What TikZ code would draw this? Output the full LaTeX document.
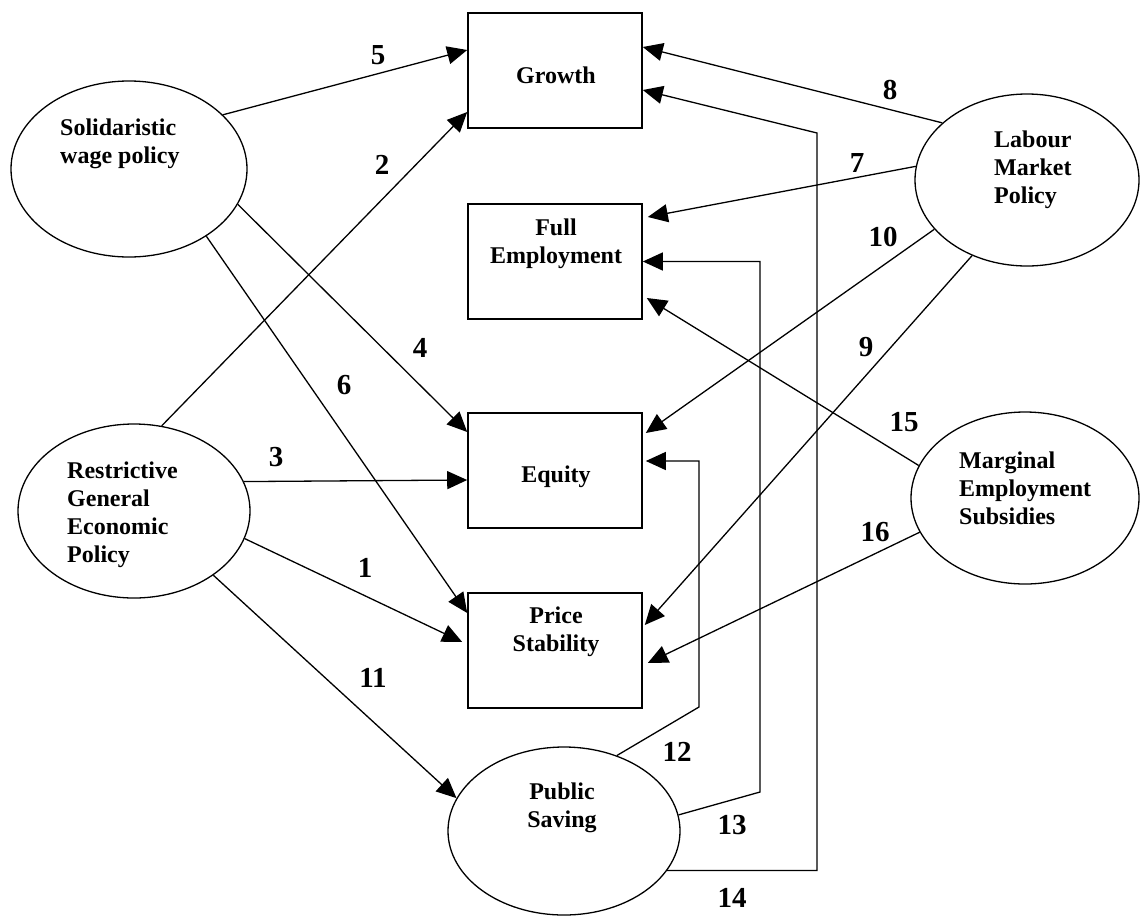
\documentclass[tikz,border=0pt]{standalone}
\usepackage{fontspec}
\setmainfont{Liberation Serif}
\usetikzlibrary{arrows.meta,shapes.geometric}
\begin{document}
\begin{tikzpicture}[x=1pt,y=-1pt,
  oval/.style={ellipse,draw,line width=1.3pt,inner sep=0pt},
  goal/.style={rectangle,draw,line width=1.6pt,minimum width=174pt,minimum height=115pt,inner sep=0pt},
  txt/.style={font=\fontsize{24}{28}\selectfont\bfseries,inner sep=0pt},
  num/.style={font=\fontsize{29}{30}\selectfont\bfseries,inner sep=0pt},
  link/.style={line width=1.3pt,-{Triangle[length=20pt,width=18pt]}}]
\useasboundingbox (0,0) rectangle (1140,916);

% goal boxes
\node[goal] (growth) at (555,70.5) {};
\node[goal] (fe) at (555,261.5) {};
\node[goal] (equity) at (555,470.5) {};
\node[goal] (ps) at (555,650.5) {};
\node[txt] (growth-t) at (556,75) {Growth};
\node[txt,align=center] (fe-t) at (556,244) {Full\\Employment};
\node[txt] (equity-t) at (556,477) {Equity};
\node[txt,align=center] (ps-t) at (556,632) {Price\\Stability};

% policy ellipses
\node[oval,minimum width=236pt,minimum height=176pt] (sol) at (129,169) {};
\node[oval,minimum width=232pt,minimum height=174pt] (res) at (134,511) {};
\node[oval,minimum width=224pt,minimum height=172pt] (lab) at (1027,180) {};
\node[oval,minimum width=228pt,minimum height=172pt] (mar) at (1025,498) {};
\node[oval,minimum width=232pt,minimum height=168pt] (pub) at (564,831) {};
\node[txt,align=left,anchor=west] (sol-t) at (60,144) {Solidaristic\\wage policy};
\node[txt,align=left,anchor=west] (res-t) at (67,515) {Restrictive\\General\\Economic\\Policy};
\node[txt,align=left,anchor=west] (lab-t) at (994,170) {Labour\\Market\\Policy};
\node[txt,align=left,anchor=west] (mar-t) at (959,488) {Marginal\\Employment\\Subsidies};
\node[txt,align=center] (pub-t) at (562,808) {Public\\Saving};

% elbow points
\coordinate (k12) at (699,707);
\coordinate (k13) at (760,792);
\coordinate (k14) at (817,133);

% connectors
\draw[link] (sol.30) -- ([yshift=20.5pt]growth.west);
\draw[link] (res.72) -- ([yshift=-41.5pt]growth.west);
\draw[link] (lab.146) -- ([yshift=23.5pt]growth.east);
\draw[link] (lab.173) -- ([xshift=5pt,yshift=44.5pt]fe.east);
\draw[link] (mar.163) -- ([xshift=4pt,yshift=-36.5pt]fe.east);
\draw[link] (sol.-18) -- ([yshift=38.5pt]equity.west);
\draw[link] (res.15) -- ([yshift=-9.5pt]equity.west);
\draw[link] (lab.208) -- ([xshift=3pt,yshift=37.5pt]equity.east);
\draw[link] (sol.-41) -- ([yshift=37.5pt]ps.west);
\draw[link] (res.-14) -- ([xshift=-5pt,yshift=8.5pt]ps.west);
\draw[link] (lab.234) -- ([xshift=2pt,yshift=25.5pt]ps.east);
\draw[link] (mar.198) -- ([xshift=5pt,yshift=-12.5pt]ps.east);
\draw[link] (res.-39) -- (pub.163);
\draw[link] (pub.55) -- (k12) |- ([xshift=3pt,yshift=9.5pt]equity.east);
\draw[link] (pub.8) -- (k13) |- (fe.east);
\draw[link] (pub.-21) -| (k14) -- ([yshift=-19.5pt]growth.east);

% numbers
\node[num] (n1) at (365,568) {1};
\node[num] (n2) at (382,165) {2};
\node[num] (n3) at (276,457) {3};
\node[num] (n4) at (420,348) {4};
\node[num] (n5) at (378,55) {5};
\node[num] (n6) at (344,385) {6};
\node[num] (n7) at (857,163) {7};
\node[num] (n8) at (890,90) {8};
\node[num] (n9) at (866,347) {9};
\node[num] (n10) at (883,237) {10};
\node[num] (n11) at (373,678) {11};
\node[num] (n12) at (677,752) {12};
\node[num] (n13) at (732,825) {13};
\node[num] (n14) at (732,898) {14};
\node[num] (n15) at (904,422) {15};
\node[num] (n16) at (875,532) {16};
\end{tikzpicture}
\end{document}
